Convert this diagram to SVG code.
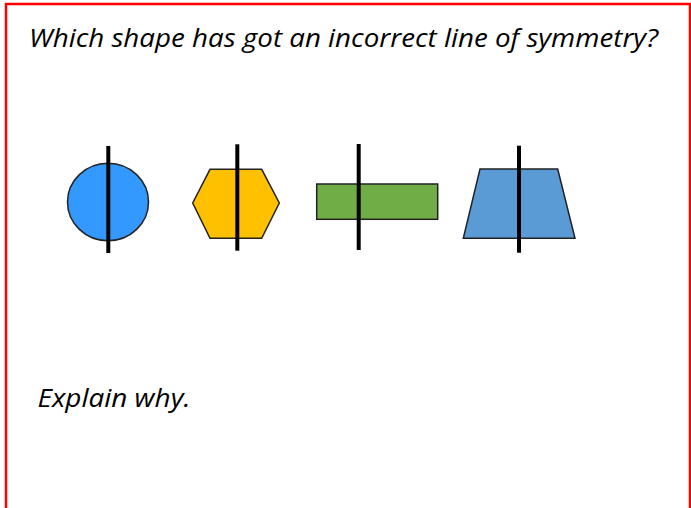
<svg xmlns="http://www.w3.org/2000/svg" width="691" height="508" viewBox="0 0 691 508">
<style>
.t{font-family:"Open Sans","Liberation Sans",sans-serif;font-style:italic;font-size:26px;fill:#000}
.sh{stroke:#222;stroke-width:1.5}
.ax{stroke:#000;stroke-width:4;stroke-linecap:butt}
</style>
<rect x="0" y="0" width="691" height="508" fill="#fff"/>
<path d="M6,512 V4 H690 V512" fill="none" stroke="#ff0000" stroke-width="2.5"/>
<text class="t" x="29" y="47" textLength="629" lengthAdjust="spacingAndGlyphs">Which shape has got an incorrect line of symmetry?</text>
<g id="circle">
<ellipse class="sh" cx="108" cy="202" rx="40.5" ry="38.7" fill="#3399ff"/>
<line class="ax" x1="108.3" y1="146" x2="108.3" y2="253"/>
</g>
<g id="hexagon">
<polygon class="sh" points="192.7,203 210,169.3 261.7,169.3 279.3,203 261.7,238.3 210,238.3" fill="#ffc000"/>
<line class="ax" x1="237.3" y1="144.3" x2="237.3" y2="250.7"/>
</g>
<g id="rectangle">
<rect class="sh" x="316.7" y="184" width="121" height="35.3" fill="#70ad47"/>
<line class="ax" x1="358.7" y1="144" x2="358.7" y2="250"/>
</g>
<g id="trapezium">
<polygon class="sh" points="480,169 557.7,169 575,238.3 463.3,238.3" fill="#5b9bd5"/>
<line class="ax" x1="519" y1="145.7" x2="519" y2="252.7"/>
</g>
<g id="connectors"></g>
<text class="t" x="37.5" y="407" textLength="153" lengthAdjust="spacingAndGlyphs">Explain why.</text>
</svg>
